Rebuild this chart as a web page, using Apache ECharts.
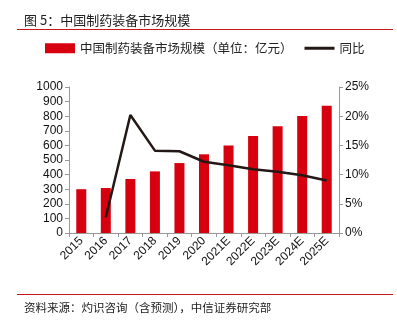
<!DOCTYPE html>
<html><head><meta charset="utf-8">
<script src="https://cdn.jsdelivr.net/npm/echarts@6/dist/echarts.min.js"></script>
<style>html,body{margin:0;padding:0;background:#fff}#c{width:397px;height:323px}</style>
</head><body><div id="c"></div>
<script>
const categories = ['2015','2016','2017','2018','2019','2020','2021E','2022E','2023E','2024E','2025E'];
const marketSize = [300, 308, 370, 422, 479, 539, 600, 664, 731, 801, 872];
const yoy = [null, 2.7, 20.2, 14.1, 14.0, 12.2, 11.6, 10.9, 10.5, 9.9, 9.0];

const font = '"Liberation Sans", Arial, "Noto Sans CJK SC", sans-serif';
const cjk = '"Noto Sans CJK SC", sans-serif';
const chart = echarts.init(document.getElementById('c'));
chart.setOption({
  animation: false,
  backgroundColor: '#fff',
  title: [
    {text: '图 5：中国制药装备市场规模', left: 19, top: 9, textStyle: {fontSize: 13, fontWeight: 'normal', color: '#222', fontFamily: cjk}},
    {text: '资料来源：灼识咨询（含预测），中信证券研究部', left: 19, top: 297, textStyle: {fontSize: 11.5, fontWeight: 'normal', color: '#222', fontFamily: cjk}}
  ],
  graphic: [
    {type: 'line', shape: {x1: 17, y1: 29.5, x2: 393, y2: 29.5}, style: {stroke: '#c8161d', lineWidth: 1}},
    {type: 'line', shape: {x1: 17, y1: 294.5, x2: 393, y2: 294.5}, style: {stroke: '#c8161d', lineWidth: 1}}
  ],
  legend: {
    top: 37, left: 40, itemGap: 12, itemWidth: 30, itemHeight: 10,
    textStyle: {fontSize: 12.5, color: '#222', fontFamily: cjk},
    data: [
      {name: '中国制药装备市场规模（单位：亿元）', icon: 'rect'},
      {name: '同比', icon: 'path://M0,0 L30,0 L30,3 L0,3 Z'}
    ]
  },
  grid: {left: 69, right: 58, top: 87, bottom: 90, containLabel: false},
  xAxis: {
    type: 'category', data: categories,
    axisLine: {lineStyle: {color: '#999'}},
    axisTick: {show: true, length: 4, lineStyle: {color: '#999'}},
    axisLabel: {rotate: 45, fontSize: 12, color: '#111', fontFamily: font, margin: 6, interval: 0}
  },
  yAxis: [
    {type: 'value', min: 0, max: 1000, interval: 100, position: 'left',
     axisLine: {show: true, lineStyle: {color: '#999'}},
     axisTick: {show: true, length: 4, lineStyle: {color: '#999'}},
     splitLine: {show: false},
     axisLabel: {fontSize: 12, color: '#111', fontFamily: font, margin: 6, formatter: v => String(v)}},
    {type: 'value', min: 0, max: 25, interval: 5, position: 'right',
     axisLine: {show: true, lineStyle: {color: '#999'}},
     axisTick: {show: true, length: 4, lineStyle: {color: '#999'}},
     splitLine: {show: false},
     axisLabel: {fontSize: 12, color: '#111', fontFamily: font, margin: 6, formatter: '{value}%'}}
  ],
  series: [
    {name: '中国制药装备市场规模（单位：亿元）', type: 'bar', data: marketSize, barWidth: 10,
     itemStyle: {color: '#d7000f'}},
    {name: '同比', type: 'line', yAxisIndex: 1, data: yoy, symbol: 'none',
     lineStyle: {color: '#231815', width: 2.5}, itemStyle: {color: '#231815'}}
  ]
});
</script></body></html>
